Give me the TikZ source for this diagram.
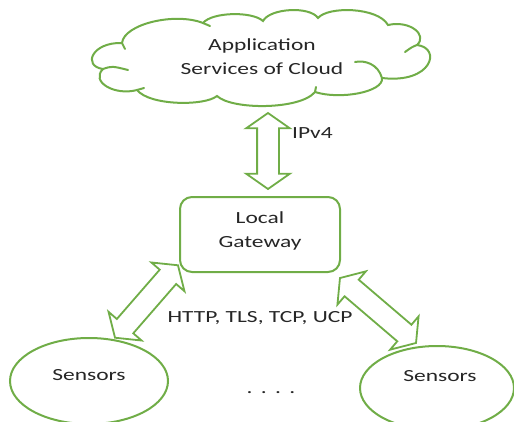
\documentclass[tikz,border=0pt]{standalone}
\usepackage{fontspec}
\setmainfont{Carlito}
\usetikzlibrary{shapes.arrows,shapes.geometric}
\definecolor{lgreen}{RGB}{112,173,71}
\definecolor{txt}{RGB}{38,38,38}
\newcommand\wtxt[1]{\scalebox{1.38}[1]{#1}}
\tikzset{
  shapeline/.style={draw=lgreen, line width=2pt, fill=white},
  curl/.style={draw=lgreen, line width=2pt, line cap=round},
  lbl/.style={text=txt, font=\fontsize{17}{24}\selectfont, inner sep=0pt, align=center},
  dblarrow/.style={double arrow, shapeline, line width=1.8pt, inner sep=10pt, minimum width=42pt,
    double arrow head extend=11pt, double arrow tip angle=110, anchor=center},
}
\begin{document}
\begin{tikzpicture}[x=1pt,y=-1pt]
\useasboundingbox (0,0) rectangle (514,421);
% cloud outline
\draw[shapeline, line join=miter]
  (122,43) .. controls (124,24) and (175,12) .. (203,23)
  .. controls (212,12) and (252,11) .. (263,21)
  .. controls (270,8) and (310,6) .. (318,18)
  .. controls (328,6) and (378,7) .. (388,25)
  .. controls (410,20) and (428,35) .. (417,45)
  .. controls (442,48) and (432,84) .. (382,78)
  .. controls (384,92) and (340,100) .. (315,92)
  .. controls (300,110) and (232,110) .. (217,96)
  .. controls (205,106) and (150,106) .. (137,90)
  .. controls (115,96) and (90,82) .. (103,69)
  .. controls (82,66) and (92,42) .. cycle;
% inner curls
\draw[curl] (103,69) .. controls (112,66) .. (128,70);
\draw[curl] (417,45) .. controls (412,47) .. (405,52);
\draw[curl] (382,78) .. controls (378,64) and (365,60) .. (355,62);
\draw[curl] (122,43) -- (125,49);
\draw[curl] (203,23) -- (210,26);
\draw[curl] (137,90) -- (144,88);
\draw[curl] (315,92) -- (316,87);
\node[lbl] (cloudtxt) at (262,57) {\wtxt{Application}\\[0pt]\wtxt{Services of Cloud}};
% gateway
\node[shapeline, rounded corners=12pt, minimum width=160pt, minimum height=75pt] (gw) at (260,234.5) {};
\node[lbl] (gwtxt) at (260,231) {\wtxt{Local}\\[0pt]\wtxt{Gateway}};
% sensors
\node[ellipse, shapeline, minimum width=158pt, minimum height=86pt] (s1) at (89,381) {};
\node[lbl] (s1txt) at (89,375) {\wtxt{Sensors}};
\node[ellipse, shapeline, minimum width=154pt, minimum height=84pt] (s2) at (437,388) {};
\node[lbl] (s2txt) at (440,376) {\wtxt{Sensors}};
% arrows
\node[dblarrow, minimum height=76pt, rotate=90] (a1) at (268,151) {};
\node[dblarrow, minimum height=96pt, rotate=49] (a2) at (146.5,301.5) {};
\node[dblarrow, minimum height=100pt, rotate=-40.5] (a3) at (378,310.5) {};
% labels
\node[lbl, anchor=west] (ipv4) at (292,133) {\wtxt{IPv4}};
\node[lbl] (proto) at (260,318) {\wtxt{HTTP, TLS, TCP, UCP}};
\node[lbl] (dots) at (271,393) {\wtxt{.\hspace{6pt}.\hspace{6pt}.\hspace{6pt}.}};
\end{tikzpicture}
\end{document}
